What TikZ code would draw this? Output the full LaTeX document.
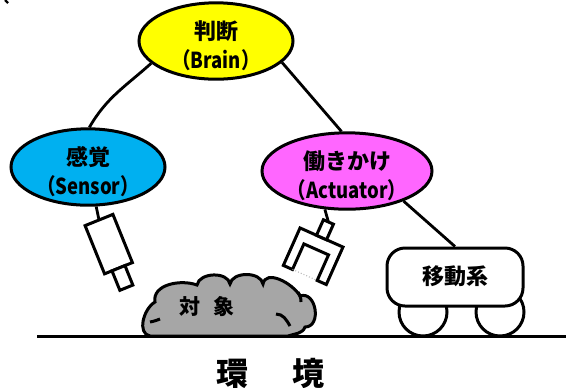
\documentclass[tikz,border=0pt]{standalone}
\usepackage{fontspec}
\setmainfont{Noto Sans CJK JP}
\newfontfamily\narrowjp{Noto Sans CJK JP}[FakeStretch=0.84]
\usetikzlibrary{shapes.geometric}
\definecolor{brainfill}{HTML}{FFFF00}
\definecolor{sensorfill}{HTML}{00B0F0}
\definecolor{actfill}{HTML}{FF66FF}
\definecolor{objfill}{HTML}{A6A6A6}

\begin{document}
\begin{tikzpicture}[x=0.5pt, y=0.5pt,
    role/.style={draw, ellipse, line width=1.5pt, inner sep=0pt, align=center,
      text height=27pt, text depth=-3pt, font=\fontsize{11}{14.5}\selectfont\bfseries},
    link/.style={line width=1.4pt},
    part/.style={draw, fill=white, line width=1.5pt},
    wheel/.style={draw, circle, fill=white, line width=1.5pt, minimum size=24pt, inner sep=0pt}]
  \useasboundingbox (0,0) rectangle (571,-387);
  \draw[line width=1.2pt] (5,0) -- (8,-3);

  \node[role, fill=brainfill, minimum width=77pt, minimum height=34pt] (brain) at (216,-41)
    {判断\\{\narrowjp（Brain）}};
  \node[role, fill=sensorfill, minimum width=77pt, minimum height=36pt] (sensor) at (88,-167)
    {感覚\\{\narrowjp（Sensor）}};
  \node[role, fill=actfill, minimum width=85pt, minimum height=35pt] (actuator) at (347,-171)
    {働きかけ\\{\narrowjp（Actuator）}};

  % vehicle: wheels first, body over them
  \node[wheel] (wheelL) at (423,-312) {};
  \node[wheel] (wheelR) at (500,-312) {};
  \node[part, rounded corners=9pt, minimum width=68pt, minimum height=29pt,
    font=\fontsize{11}{11}\selectfont\bfseries] (mover) at (455,-277) {\raisebox{2pt}{移動系}};

  \draw[link] (brain.199) to[out=222,in=60] (sensor.88);
  \draw[link] (brain.342) -- (actuator.98);
  \draw[link] (actuator.332) -- (mover.north);

  % camera
  \begin{scope}[shift={(99,-220)}, rotate=22]
    \draw[part] (-15,0) rectangle (15,-52);
    \draw[part] (-7,-52) rectangle (7,-73);
    \coordinate (camtop) at (0,0);
  \end{scope}
  \draw[link] (sensor) -- (camtop);

  % gripper
  \begin{scope}[shift={(321.5,-237.5)}, rotate=-24]
    \draw[part] (-23.5,0) -- (23.5,0) -- (23.5,-41) -- (13.5,-41) -- (13.5,-13)
      -- (-13.5,-13) -- (-13.5,-41) -- (-23.5,-41) -- cycle;
    \draw[gray!60, densely dotted, line width=0.5pt] (-13.5,-41) -- (13.5,-41);
    \draw[part] (-5.5,0) rectangle (5.5,17);
    \coordinate (grip) at (0,17);
  \end{scope}
  \draw[link] (actuator.240) -- (grip);

  % object
  \draw[fill=objfill, line width=1.5pt] (150,-336) to[out=170,in=210] (155,-302)
    to[out=100,in=160] (197,-285) to[out=80,in=100] (230,-284)
    to[out=80,in=100] (263,-284) to[out=80,in=120] (300,-296)
    to[out=20,in=0,looseness=1.4] (305,-327) to[out=250,in=20] (288,-336) -- cycle;
  \draw[line width=1.5pt] (150,-322) to[out=10,in=200] (160,-319);
  \draw[line width=1.5pt] (276,-314) to[out=0,in=120] (290,-326);
  \draw[line width=1.5pt] (298,-292) to[out=-60,in=90] (301,-302);
  \node[font=\fontsize{10.5}{10.5}\selectfont\bfseries] (object) at (207,-307) {対\hspace{7pt}象};

  \coordinate (gl) at (37,-336);
  \coordinate (gr) at (566,-336);
  \draw[line width=1.5pt] (gl) -- (gr);

  \node[font=\fontsize{16}{16}\selectfont\bfseries] (env) at (270,-373) {環\hspace{22pt}境};
\end{tikzpicture}
\end{document}
